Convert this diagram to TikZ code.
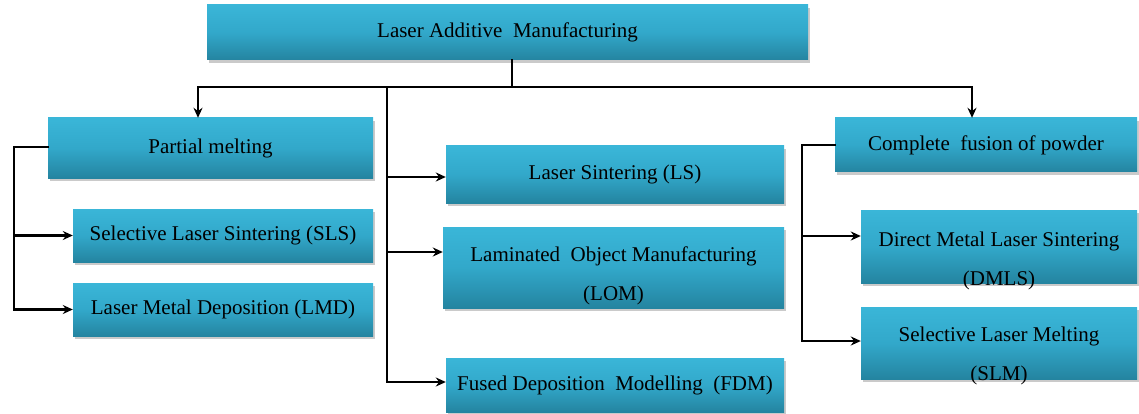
\documentclass[tikz,border=0pt]{standalone}
\usepackage{fontspec}
\setmainfont{Liberation Serif}
\newfontfamily\boxfont{Liberation Serif}
\usetikzlibrary{arrows.meta,shadows,calc}
\definecolor{boxtop}{RGB}{58,182,216}
\definecolor{boxmid}{RGB}{50,168,202}
\definecolor{boxbot}{RGB}{36,132,160}
\tikzset{
  pbox/.style={rectangle, inner sep=0pt, top color=boxtop, bottom color=boxbot, middle color=boxmid,
    drop shadow={shadow xshift=2pt, shadow yshift=-3pt, opacity=0.35, fill=black!60},
    font=\boxfont\fontsize{21}{39}\selectfont, align=center},
  lbl/.style={inner sep=0pt, font=\boxfont\fontsize{21}{39}\selectfont, align=center},
  link/.style={line width=2.6pt, line cap=rect},
  arr/.style={line width=2.6pt, -{Stealth[length=10pt,width=9pt]}},
}
\begin{document}
\begin{tikzpicture}[x=1pt,y=-1pt]
\useasboundingbox (0,0) rectangle (1139,414);
% boxes
\node[pbox, minimum width=601pt, minimum height=55pt] (top) at (507.5,32.5) {\raisebox{-2pt}{Laser Additive\ \ Manufacturing}};
\node[pbox, minimum width=325pt, minimum height=60pt] (pm) at (210.5,148) {Partial melting};
\node[pbox, minimum width=300pt, minimum height=53pt] (sls) at (223,235.5) {\raisebox{-2pt}{Selective Laser Sintering (SLS)}};
\node[pbox, minimum width=300pt, minimum height=53pt] (lmd) at (223,309.5) {Laser Metal Deposition (LMD)};
\node[pbox, minimum width=338pt, minimum height=57pt] (ls) at (615,174.5) {\raisebox{-4pt}{Laser Sintering (LS)}};
\node[pbox, minimum width=341pt, minimum height=81pt] (lom) at (613.5,267.5) {};
\node[lbl] (lomt) at (613.5,276) {Laminated\ \ Object Manufacturing\\(LOM)};
\node[pbox, minimum width=338pt, minimum height=54pt] (fdm) at (615,385) {\raisebox{-4pt}{Fused Deposition\ \ Modelling\ \ (FDM)}};
\node[pbox, minimum width=302pt, minimum height=54pt] (cf) at (986,145) {\raisebox{-3pt}{Complete\ \ fusion of powder}};
\node[pbox, minimum width=276pt, minimum height=73pt] (dmls) at (999,246.5) {};
\node[lbl] (dmlst) at (999,261) {Direct Metal Laser Sintering\\(DMLS)};
\node[pbox, minimum width=276pt, minimum height=72pt] (slm) at (999,343) {};
\node[lbl] (slmt) at (999,356) {Selective Laser Melting\\(SLM)};
% junction points
\coordinate (j0) at (512,87);
\coordinate (hl) at (198,87);
\coordinate (hr) at (972,87);
\coordinate (vm) at (387,87);
\coordinate (bl) at (14,0);
\coordinate (br) at (802,0);
% trunk
\draw[link] (top.south -| j0) -- (j0);
\draw[link] (hl) -- (hr);
\draw[arr] (hl) -- (pm.north -| hl);
\draw[arr] (hr) -- (cf.north -| hr);
% middle branch
\draw[link] (vm) -- (vm |- 0,382);
\draw[arr] (vm |- 0,177) -- (ls.west |- 0,177);
\draw[arr] (vm |- 0,252) -- (lom.west |- 0,252);
\draw[arr] (vm |- 0,382) -- (fdm.west |- 0,382);
% left branch
\draw[link] (pm.west |- 0,147) -- (bl |- 0,147) -- (bl |- lmd.west);
\draw[arr] (bl |- sls.west) -- (sls.west);
\draw[arr] (bl |- lmd.west) -- (lmd.west);
% right branch
\draw[link] (cf.west) -- (br |- cf.west) -- (br |- 0,341);
\draw[arr] (br |- 0,236) -- (dmls.west |- 0,236);
\draw[arr] (br |- 0,341) -- (slm.west |- 0,341);
\end{tikzpicture}
\end{document}
